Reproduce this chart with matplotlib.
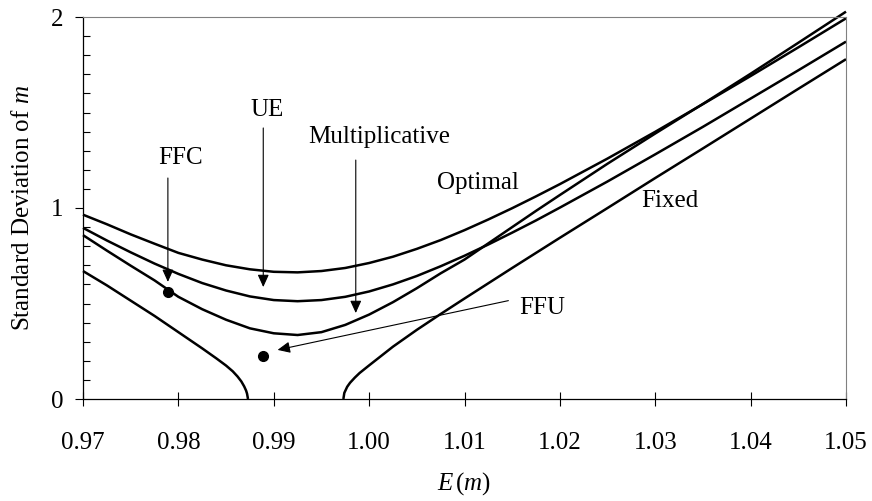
import numpy as np
import matplotlib
matplotlib.use("Agg")
import matplotlib.pyplot as plt
from matplotlib.ticker import MultipleLocator

plt.rcParams['font.family'] = ['Liberation Serif', 'DejaVu Serif']
plt.rcParams['mathtext.fontset'] = 'custom'
plt.rcParams['mathtext.rm'] = 'Liberation Serif'
plt.rcParams['mathtext.it'] = 'Liberation Serif:italic'

# Frontier curves
# ************************************
# E(m) points shared by the three smooth frontiers
mean_grid = [0.9700, 0.9725, 0.9750, 0.9775, 0.9800, 0.9825, 0.9850, 0.9875,
             0.9900, 0.9925, 0.9950, 0.9975, 1.0000, 1.0025, 1.0050, 1.0075,
             1.0100, 1.0125, 1.0150, 1.0175, 1.0200, 1.0250, 1.0300, 1.0350,
             1.0400, 1.0450, 1.0500]

sd_optimal = [0.965, 0.915, 0.862, 0.813, 0.765, 0.730, 0.700, 0.679,
              0.666, 0.663, 0.670, 0.686, 0.712, 0.745, 0.786, 0.832,
              0.884, 0.940, 0.999, 1.061, 1.125, 1.259, 1.399, 1.544,
              1.691, 1.841, 1.993]

sd_ue = [0.896, 0.830, 0.768, 0.709, 0.655, 0.607, 0.568, 0.537,
         0.518, 0.512, 0.518, 0.535, 0.563, 0.600, 0.644, 0.695,
         0.750, 0.809, 0.871, 0.935, 1.002, 1.139, 1.281, 1.425,
         1.573, 1.721, 1.871]

sd_multiplicative = [0.858, 0.777, 0.698, 0.621, 0.535, 0.470, 0.415, 0.370,
                     0.344, 0.335, 0.350, 0.388, 0.442, 0.507, 0.580, 0.658,
                     0.730, 0.815, 0.900, 0.985, 1.068, 1.232, 1.390, 1.545,
                     1.703, 1.865, 2.028]

# the fixed rule has two branches with a gap where no solution exists
fixed_left_mean = [0.9700, 0.9725, 0.9750, 0.9775, 0.9800, 0.9825, 0.9840,
                   0.9850, 0.9857, 0.9862, 0.9866, 0.9869, 0.9871, 0.9872,
                   0.9873]
fixed_left_sd = [0.670, 0.595, 0.515, 0.435, 0.350, 0.265, 0.212,
                 0.175, 0.145, 0.118, 0.092, 0.066, 0.044, 0.028,
                 0.000]

fixed_right_mean = [0.9973, 0.9974, 0.9977, 0.9980, 0.9985, 0.9990, 1.0000,
                    1.0025, 1.0050, 1.0075, 1.0100, 1.0125, 1.0150, 1.0175,
                    1.0200, 1.0250, 1.0300, 1.0350, 1.0400, 1.0450, 1.0500]
fixed_right_sd = [0.000, 0.032, 0.064, 0.085, 0.112, 0.136, 0.176,
                  0.274, 0.362, 0.445, 0.526, 0.606, 0.686, 0.765,
                  0.844, 1.000, 1.157, 1.312, 1.468, 1.624, 1.779]

# the two single portfolios
point_names = ["FFC", "FFU"]
point_mean = [0.9789, 0.9889]
point_sd = [0.560, 0.225]

x_ticks = [0.97, 0.98, 0.99, 1.00, 1.01, 1.02, 1.03, 1.04, 1.05]
x_tick_labels = ["0.97", "0.98", "0.99", "1.00", "1.01", "1.02", "1.03", "1.04", "1.05"]
y_ticks = [0, 1, 2]


# Drawing
# *******
fig = plt.figure(figsize=(8.72, 5.01), dpi=100)
ax = fig.add_axes([83 / 872, 102 / 501, 763 / 872, 382 / 501])

line_style = dict(color='black', lw=1.8, solid_capstyle='butt', clip_on=False)
ax.plot(mean_grid, sd_optimal, **line_style)
ax.plot(mean_grid, sd_ue, **line_style)
ax.plot(mean_grid, sd_multiplicative, **line_style)
ax.plot(fixed_left_mean, fixed_left_sd, **line_style)
ax.plot(fixed_right_mean, fixed_right_sd, **line_style)

ax.plot(point_mean, point_sd, 'o', color='black', ms=7, zorder=5)

ax.set_xlim(0.97, 1.05)
ax.set_ylim(0, 2)

# Excel style frame: dark axes, grey box on top and right
for side in ['top', 'right']:
    ax.spines[side].set_color('#808080')
    ax.spines[side].set_linewidth(0.8)
for side in ['left', 'bottom']:
    ax.spines[side].set_color('black')
    ax.spines[side].set_linewidth(0.9)

text_size = 18

ax.set_xticks(x_ticks)
ax.set_xticklabels(x_tick_labels)
ax.set_yticks(y_ticks)
ax.yaxis.set_minor_locator(MultipleLocator(0.1))
ax.tick_params(axis='x', which='major', direction='inout', length=9.5, width=0.8,
               pad=19, labelsize=text_size)
ax.tick_params(axis='y', which='major', direction='out', length=6, width=0.8,
               pad=8, labelsize=text_size)
ax.tick_params(axis='y', which='minor', direction='in', length=5, width=0.8)

ax.set_xlabel(r"$E\,(m)$", fontsize=text_size, labelpad=12)
ax.set_ylabel(r"Standard Deviation of $m$", fontsize=text_size, labelpad=12)

# labels and arrows
ax.text(0.9802, 1.262, "FFC", ha='center', va='center', fontsize=text_size)
ax.text(0.9893, 1.513, "UE", ha='center', va='center', fontsize=text_size)
ax.text(1.0011, 1.372, "Multiplicative", ha='center', va='center', fontsize=text_size)
ax.text(1.0114, 1.131, "Optimal", ha='center', va='center', fontsize=text_size)
ax.text(1.0315, 1.037, "Fixed", ha='center', va='center', fontsize=text_size)
ax.text(1.0182, 0.476, "FFU", ha='center', va='center', fontsize=text_size)

arrow_style = dict(arrowstyle='-|>,head_length=7.5,head_width=3.4', mutation_scale=1,
                   color='black', lw=0.8, shrinkA=0, shrinkB=0)
ax.annotate("", xy=(0.9789, 0.613), xytext=(0.9789, 1.157), arrowprops=arrow_style)
ax.annotate("", xy=(0.9889, 0.586), xytext=(0.9889, 1.419), arrowprops=arrow_style)
ax.annotate("", xy=(0.9986, 0.450), xytext=(0.9986, 1.251), arrowprops=arrow_style)
ax.annotate("", xy=(0.9904, 0.257), xytext=(1.0146, 0.515), arrowprops=arrow_style)

fig.savefig("out.png", dpi=100)
